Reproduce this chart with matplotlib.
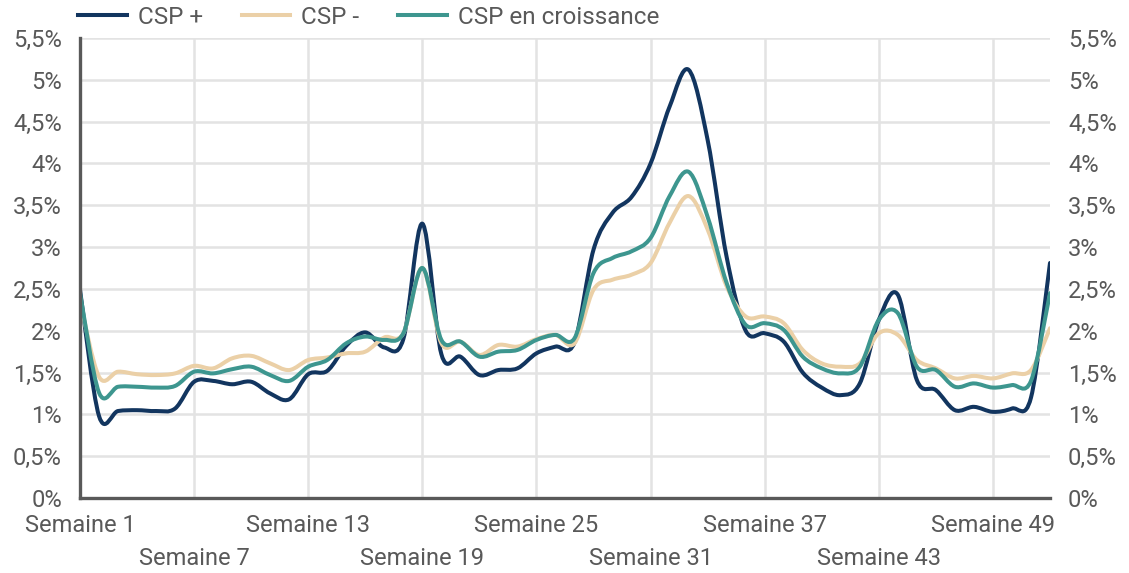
import numpy as np
import matplotlib
matplotlib.use("Agg")
import matplotlib.pyplot as plt  # noqa: E402
from matplotlib.path import Path  # noqa: E402
from matplotlib.patches import PathPatch  # noqa: E402
from matplotlib.lines import Line2D  # noqa: E402
from matplotlib.ticker import FuncFormatter  # noqa: E402

plt.rcParams["font.family"] = ["Roboto", "DejaVu Sans"]

# share of weekly value, in %
weeks = np.arange(1, 53)
csp_plus = [2.49, 0.98, 1.04, 1.05, 1.04, 1.07, 1.39, 1.40, 1.36, 1.39,
            1.25, 1.18, 1.48, 1.52, 1.82, 1.98, 1.80, 1.90, 3.28, 1.72,
            1.69, 1.47, 1.53, 1.55, 1.73, 1.81, 1.86, 2.97, 3.41, 3.60,
            4.00, 4.68, 5.12, 4.28, 2.88, 2.00, 1.97, 1.87, 1.50, 1.32,
            1.23, 1.37, 2.13, 2.43, 1.41, 1.29, 1.05, 1.09, 1.03, 1.07,
            1.20, 2.81]
csp_minus = [2.35, 1.45, 1.51, 1.48, 1.47, 1.49, 1.58, 1.55, 1.67, 1.70,
             1.61, 1.53, 1.65, 1.68, 1.73, 1.75, 1.92, 1.97, 2.75, 1.85,
             1.87, 1.71, 1.83, 1.81, 1.90, 1.95, 1.85, 2.49, 2.61, 2.67,
             2.81, 3.29, 3.61, 3.21, 2.53, 2.17, 2.17, 2.09, 1.77, 1.61,
             1.57, 1.61, 1.97, 1.95, 1.65, 1.55, 1.43, 1.46, 1.43, 1.49,
             1.53, 2.03]
csp_croissance = [2.45, 1.26, 1.33, 1.33, 1.32, 1.34, 1.51, 1.49, 1.54, 1.57,
                  1.47, 1.40, 1.57, 1.65, 1.85, 1.93, 1.89, 1.97, 2.75, 1.89,
                  1.87, 1.69, 1.75, 1.77, 1.89, 1.95, 1.91, 2.69, 2.87, 2.95,
                  3.11, 3.61, 3.90, 3.36, 2.57, 2.07, 2.09, 2.01, 1.69, 1.55,
                  1.49, 1.57, 2.13, 2.21, 1.57, 1.53, 1.33, 1.37, 1.32, 1.35,
                  1.40, 2.45]
series = [("CSP +", csp_plus, "#12355f"),
          ("CSP -", csp_minus, "#ebd0a7"),
          ("CSP en croissance", csp_croissance, "#3d968f")]
row1_weeks = [1, 13, 25, 37, 49]
row2_weeks = [7, 19, 31, 43]

GREY = "#595959"


def smooth_path(x, y):
    # Catmull-Rom through the points, drawn as cubic Bezier segments
    p = np.column_stack([x, y]).astype(float)
    ext = np.vstack([p[0], p, p[-1]])
    verts = [p[0]]
    codes = [Path.MOVETO]
    for i in range(len(p) - 1):
        p0, p1, p2, p3 = ext[i], ext[i + 1], ext[i + 2], ext[i + 3]
        verts += [p1 + (p2 - p0) / 6, p2 - (p3 - p1) / 6, p2]
        codes += [Path.CURVE4] * 3
    return Path(verts, codes)


fig = plt.figure(figsize=(11.29, 5.73), dpi=100)
ax = fig.add_axes([80 / 1129, 1 - 498 / 573, 970 / 1129, 460 / 573])

for name, vals, col in series:
    ax.add_patch(PathPatch(smooth_path(weeks, vals), fill=False, edgecolor=col,
                           lw=2.9, capstyle="round", joinstyle="round", zorder=3))

ax.set_xlim(1, 52)
ax.set_ylim(0, 5.5)
ax.set_yticks(np.arange(0, 5.51, 0.5))
ax.yaxis.set_major_formatter(FuncFormatter(lambda v, _: f"{v:g}".replace(".", ",") + "%"))
ax.set_xticks(row1_weeks)
ax.set_xticklabels([f"Semaine {w}" for w in row1_weeks])
ax.set_xticks(row2_weeks, minor=True)
ax.set_xticklabels([f"Semaine {w}" for w in row2_weeks], minor=True)

ax.tick_params(axis="y", length=0, pad=13, labelsize=17, labelcolor=GREY,
               labelleft=True, labelright=True)
ax.tick_params(axis="x", which="major", length=0, pad=11.5, labelsize=17, labelcolor=GREY)
ax.tick_params(axis="x", which="minor", length=0, pad=35, labelsize=17, labelcolor=GREY)

ax.grid(True, which="both", color="#e3e3e3", lw=1.8, zorder=0)
ax.set_axisbelow(True)
for s in ("top", "right"):
    ax.spines[s].set_visible(False)
for s in ("left", "bottom"):
    ax.spines[s].set_color(GREY)
    ax.spines[s].set_linewidth(2.4)
    ax.spines[s].set_zorder(4)

handles = [Line2D([], [], color=c, lw=2.9) for _, _, c in series]
fig.legend(handles, [n for n, _, _ in series], loc="center left",
           bbox_to_anchor=(78 / 1129, 1 - 17 / 573), ncol=3, frameon=False,
           fontsize=17.5, labelcolor=GREY, handlelength=2.0, handletextpad=0.45,
           columnspacing=1.6, borderpad=0, borderaxespad=0)

fig.savefig("out.png", dpi=100)
